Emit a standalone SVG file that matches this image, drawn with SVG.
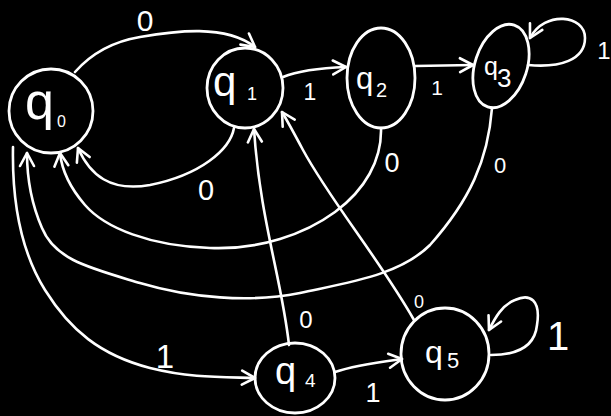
<svg xmlns="http://www.w3.org/2000/svg" width="611" height="416" viewBox="0 0 611 416">
<style>
.node{fill:none;stroke:#fff;stroke-width:2.8}
.edge{fill:none;stroke:#fff;stroke-width:2.6;stroke-linecap:round;stroke-linejoin:round}
.arrow{marker-end:url(#ah)}
text{fill:#fff;font-family:"Liberation Sans","DejaVu Sans",sans-serif}
.lbl{text-anchor:middle}
</style>
<defs>
<marker id="ah" markerUnits="userSpaceOnUse" markerWidth="24" markerHeight="24" viewBox="-16 -12 20 24" refX="0" refY="0" orient="auto">
<path d="M-13,-7 L0,0 L-13,7" fill="none" stroke="#fff" stroke-width="2.6" stroke-linecap="round" stroke-linejoin="round"/>
</marker>
</defs>
<rect width="611" height="416" fill="#000"/>
<g id="connectors">
<g id="e-q0-q1"><path class="edge arrow" d="M75,72 C90,55 110,42 140,37 C175,31 225,24 255,47"/><text class="lbl" x="145" y="31" font-size="30">0</text></g>
<g id="e-q1-q0"><path class="edge arrow" d="M234,128 C230,150 200,175 150,185 C110,192 90,175 78,148"/><text class="lbl" x="206" y="200" font-size="29">0</text></g>
<g id="e-q1-q2"><path class="edge arrow" d="M283,77 C300,70 320,68 346,67"/><text class="lbl" x="310" y="100" font-size="23">1</text></g>
<g id="e-q2-q3"><path class="edge arrow" d="M415,66 L473,65"/><text class="lbl" x="437" y="95" font-size="21">1</text></g>
<g id="e-q3-q3"><path class="edge arrow" d="M528,65 C560,68 585,60 585,38 C585,15 545,10 530,38"/><text class="lbl" x="604" y="59" font-size="24">1</text></g>
<g id="e-q2-q0"><path class="edge arrow" d="M381,128 C382,160 365,190 335,212 C305,234 260,250 210,248 C150,246 105,228 85,205 C72,190 62,172 60,153"/><text class="lbl" x="392" y="172" font-size="27">0</text></g>
<g id="e-q3-q0"><path class="edge arrow" d="M492,108 C488,160 470,200 430,245 C400,275 350,282 300,293 C250,303 190,298 140,283 C90,268 55,260 42,228 C32,205 27,180 27,153"/><text class="lbl" x="500" y="173" font-size="22">0</text></g>
<g id="e-q0-q4"><path class="edge arrow" d="M13,147 C12,200 20,250 45,290 C70,330 100,355 150,368 C190,378 220,377 255,378"/><text class="lbl" x="165" y="368" font-size="33">1</text></g>
<g id="e-q4-q1"><path class="edge arrow" d="M289,345 C282,280 260,220 254,129"/><text class="lbl" x="306" y="328" font-size="24">0</text></g>
<g id="e-q5-q1"><path class="edge arrow" d="M414,320 C380,260 330,200 303,150 C295,135 288,122 282,112"/><text class="lbl" x="419" y="308" font-size="18">0</text></g>
<g id="e-q4-q5"><path class="edge arrow" d="M335,372 C355,365 380,362 402,359"/><text class="lbl" x="373" y="402" font-size="27">1</text></g>
<g id="e-q5-q5"><path class="edge arrow" d="M491,355 C520,355 535,345 537,325 C541,300 530,293 515,300 C502,305 495,318 489,330"/><text class="lbl" x="558" y="350" font-size="40">1</text></g>
</g>
<g id="q0"><ellipse class="node" cx="51" cy="111" rx="42" ry="42"/><text><tspan x="25" y="119" font-size="52">q</tspan><tspan x="57" y="127" font-size="16">0</tspan></text></g>
<g id="q1"><ellipse class="node" cx="245" cy="88" rx="38" ry="40"/><text><tspan x="213" y="96" font-size="42">q</tspan><tspan x="247" y="100" font-size="18">1</tspan></text></g>
<g id="q2"><ellipse class="node" cx="381" cy="78" rx="34" ry="50"/><text><tspan x="356" y="89" font-size="31">q</tspan><tspan x="376" y="97" font-size="20">2</tspan></text></g>
<g id="q3"><ellipse class="node" cx="501" cy="66" rx="26" ry="43" transform="rotate(18 501 66)"/><text><tspan x="484" y="75" font-size="25">q</tspan><tspan x="497" y="87" font-size="26">3</tspan></text></g>
<g id="q4"><ellipse class="node" cx="295" cy="378" rx="40" ry="35"/><text><tspan x="275" y="384" font-size="38">q</tspan><tspan x="305" y="387" font-size="19">4</tspan></text></g>
<g id="q5"><ellipse class="node" cx="445" cy="354" rx="44" ry="46"/><text><tspan x="425" y="363" font-size="32">q</tspan><tspan x="447" y="368" font-size="22">5</tspan></text></g>
</svg>
